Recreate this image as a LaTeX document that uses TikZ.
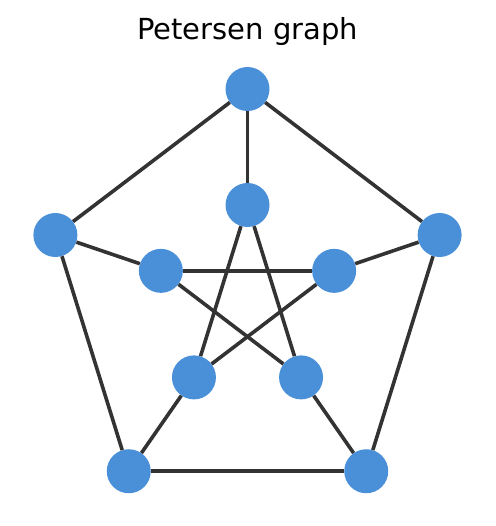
\documentclass[tikz,border=0pt]{standalone}
\usepackage{fontspec}
\setmainfont{DejaVu Sans}
\definecolor{vblue}{HTML}{4A90D9}
\definecolor{edgegray}{HTML}{333333}
\tikzset{
  vertex/.style={circle, fill=vblue, inner sep=0pt, minimum size=44pt},
  edge/.style={draw=edgegray, line width=3.6pt}
}
\begin{document}
\begin{tikzpicture}[x=0.956pt, y=1pt]
  \useasboundingbox (0pt,0pt) rectangle (495pt,526pt);
  \node[anchor=base, font=\fontsize{29}{34}\selectfont] (title) at (247.5pt,486pt) {Petersen graph};
  \begin{scope}[shift={(247.5pt,225.7pt)}]
    % outer and inner vertices
    \foreach \i in {0,...,4} {
      \node[vertex] (out\i) at (90+72*\i:211.3) {};
      \node[vertex] (in\i) at (90+72*\i:95.3) {};
    }
    % edges
    \foreach \i [evaluate=\i as \j using {int(mod(\i+1,5))},
                 evaluate=\i as \k using {int(mod(\i+2,5))}] in {0,...,4} {
      \draw[edge] (out\i) -- (out\j);
      \draw[edge] (out\i) -- (in\i);
      \draw[edge] (in\i) -- (in\k);
    }
  \end{scope}
\end{tikzpicture}
\end{document}
